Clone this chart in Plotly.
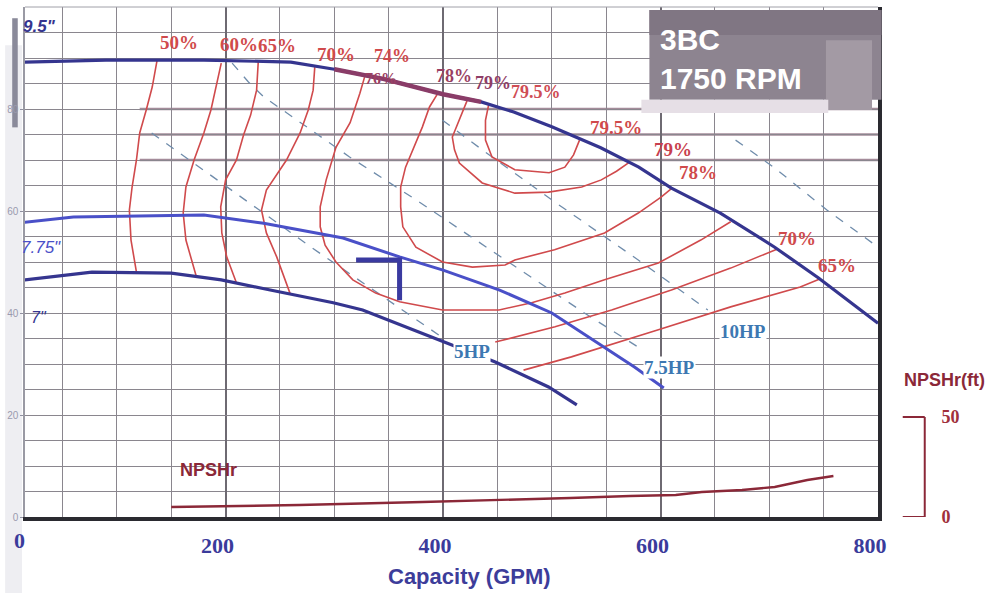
import plotly.graph_objects as go

# ---- Head-capacity curves (capacity in GPM, head in ft) ----
imp_95_gpm = [15, 90, 180, 260, 300, 345, 400, 435, 465, 500, 545, 580, 610, 655, 705, 745, 800]
imp_95_head = [89.2, 89.6, 89.6, 89.2, 87.8, 85.9, 82.9, 81.4, 79.4, 76.5, 72.4, 68.6, 64.5, 59.6, 52.9, 46.9, 38.0]

imp_775_gpm = [15, 60, 180, 195, 235, 308, 360, 400, 452, 500, 548, 576, 603]
imp_775_head = [57.8, 58.8, 59.2, 58.8, 57.6, 54.7, 51.0, 48.4, 44.5, 40.0, 33.3, 29.4, 25.3]

imp_7_gpm = [15, 77, 150, 196, 241, 299, 326, 402, 448, 497, 523]
imp_7_head = [46.5, 48.0, 47.8, 46.5, 44.5, 42.0, 40.6, 34.3, 30.4, 25.5, 22.0]

# ---- Iso-efficiency lines ----
eff50_gpm = [137, 132.5, 127, 121, 118, 114, 111.5, 113, 118]
eff50_head = [89.6, 84.3, 79.8, 75.3, 70.0, 64.7, 60.2, 54.3, 48.0]
eff60_gpm = [196, 192, 186.5, 180, 171, 163.5, 161, 163.5, 173]
eff60_head = [89.0, 85.1, 79.8, 75.3, 70.0, 64.7, 59.6, 54.3, 47.2]
eff65_gpm = [230, 228.5, 223, 216.5, 210, 200, 195.5, 196.5, 201, 210]
eff65_head = [89.2, 83.7, 78.8, 74.9, 70.0, 66.1, 60.8, 55.7, 51.0, 45.9]
eff65_right_gpm = [474, 518, 598, 664.5, 728.5, 747]
eff65_right_head = [28.8, 31.4, 36.7, 41.2, 45.1, 46.7]
eff70_gpm = [282, 280.5, 276, 268.5, 256, 237.5, 233, 237.5, 247, 259.5]
eff70_head = [88.2, 83.7, 79.8, 75.3, 70.0, 64.1, 60.2, 55.7, 51.0, 43.7]
eff70_right_gpm = [448, 503, 555, 610, 664.5, 707]
eff70_right_head = [34.3, 37.3, 40.6, 44.5, 48.8, 52.5]
eff74_gpm = [328, 323.5, 314.5, 301.5, 292.5, 287, 287, 291.5, 301.5, 317, 338, 360,
             399.5, 451.5, 481.5, 512, 548.5, 598, 637, 664.5]
eff74_head = [86.4, 83.1, 77.3, 72.5, 66.1, 60.8, 56.9, 53.3, 50.0, 46.5, 43.9, 42.2,
              40.6, 40.6, 42.0, 43.9, 46.5, 49.8, 54.3, 57.9]
eff78_gpm = [395, 387.5, 381, 372, 365.5, 361, 361, 363, 375, 399.5, 427, 457, 466,
             502.5, 548.5, 579.5, 600.5, 610]
eff78_head = [83.0, 80.4, 76.5, 71.9, 68.6, 64.7, 60.8, 56.9, 52.9, 50.0, 49.0, 49.4, 50.4,
              52.4, 55.7, 59.6, 62.7, 64.4]
eff79_gpm = [422, 417.5, 408.5, 410.5, 415, 436, 466, 497, 527.5, 545.5, 559.5, 571.5]
eff79_head = [81.6, 79.2, 74.5, 72.0, 69.4, 65.5, 63.5, 63.7, 64.7, 66.1, 67.8, 69.6]
eff795_gpm = [442, 439, 439, 445, 466, 497.5, 512, 520, 525.5]
eff795_head = [80.9, 77.8, 73.9, 70.6, 68.1, 67.5, 68.6, 71.0, 73.9]

# ---- Power (HP) lines ----
hp5_gpm = [132, 278, 400]
hp5_head = [75.3, 53.0, 35.1]
hp75_gpm = [206, 221, 235, 314, 375, 454, 530, 578]
hp75_head = [89.0, 85.3, 82.4, 70.6, 62.2, 50.8, 40.0, 33.5]
hp10_gpm = [399.5, 436, 506.5, 579.5, 643.5]
hp10_head = [77.8, 72.0, 61.2, 50.4, 40.6]
hp15_gpm = [669, 704, 753, 795]
hp15_head = [73.9, 68.6, 60.2, 53.7]

# ---- NPSHr (secondary axis, ft) ----
npshr_gpm = [150, 268, 381, 454, 517, 572, 614, 638, 675, 705, 735, 759]
npshr_ft = [5, 6, 7.5, 8.5, 9.5, 10.5, 11, 12.5, 13.5, 15, 18.5, 20.5]

# ---- Best-efficiency marker ----
bep_gpm = [320, 360, 360]
bep_head = [50.4, 50.4, 42.5]

# ---- Axis ticks ----
x_ticks = [200, 400, 600, 800]
x_minor = [50, 100, 150, 250, 300, 350, 450, 500, 550, 650, 700, 750]
y_ticks = [0, 20, 40, 60, 80]
npsh_ticks = [0, 50]

NAVY = "#35358f"
BLUE = "#4a50c8"
RED = "#d04a4c"
HPBLUE = "#3d78b2"
MAROON = "#8b2838"
GRID = "#8a868e"

fig = go.Figure()


def line(x, y, color, width, dash="solid", yaxis="y"):
    fig.add_trace(go.Scatter(x=x, y=y, mode="lines", yaxis=yaxis,
                             line=dict(color=color, width=width, dash=dash),
                             hoverinfo="skip", showlegend=False))


# power lines (thin dashed)
for gx, hy in [(hp5_gpm, hp5_head), (hp75_gpm, hp75_head),
               (hp10_gpm, hp10_head), (hp15_gpm, hp15_head)]:
    line(gx, hy, "#6f8cab", 1.3, dash="dash")

# efficiency lines
for gx, hy in [(eff50_gpm, eff50_head), (eff60_gpm, eff60_head), (eff65_gpm, eff65_head),
               (eff65_right_gpm, eff65_right_head), (eff70_gpm, eff70_head),
               (eff70_right_gpm, eff70_right_head), (eff74_gpm, eff74_head),
               (eff78_gpm, eff78_head), (eff79_gpm, eff79_head), (eff795_gpm, eff795_head)]:
    line(gx, hy, RED, 1.6)

# impeller curves
line(imp_95_gpm, imp_95_head, NAVY, 3.2)
line(imp_95_gpm[4:8], imp_95_head[4:8], "#8a3c68", 4.5)
line(imp_775_gpm, imp_775_head, BLUE, 3.0)
line(imp_7_gpm, imp_7_head, NAVY, 3.2)

# best efficiency marker
line(bep_gpm, bep_head, "#3a3aa0", 5)

# NPSHr curve
line(npshr_gpm, npshr_ft, MAROON, 2.4, yaxis="y2")

ann = []


def label(text, x, y, color, size=19, family="Liberation Serif", bold=True,
          italic=False, bg=None, xanchor="center", xref="x", yref="y"):
    t = text
    if bold:
        t = "<b>" + t + "</b>"
    if italic:
        t = "<i>" + t + "</i>"
    d = dict(text=t, x=x, y=y, xref=xref, yref=yref, showarrow=False,
             xanchor=xanchor, yanchor="middle",
             font=dict(family=family, size=size, color=color), borderpad=0)
    if bg:
        d["bgcolor"] = bg
    ann.append(d)


# efficiency labels
for txt, gx, hy, col, sz in [("50%", 157.2, 93.1, RED, 19), ("60%", 212, 92.7, RED, 19),
                             ("65%", 247, 92.4, RED, 19), ("70%", 301.6, 90.6, RED, 19),
                             ("74%", 353, 90.4, RED, 18), ("76%", 343, 86.0, "#9b4063", 16),
                             ("78%", 410, 86.5, "#9a3f62", 18), ("79%", 446, 85.1, "#8f3d66", 18),
                             ("79.5%", 485, 83.3, "#cf4d55", 18),
                             ("79.5%", 559.4, 76.3, RED, 19), ("79%", 611.5, 72.0, "#c8404e", 19),
                             ("78%", 634.4, 67.6, RED, 19), ("70%", 725.8, 54.7, RED, 19),
                             ("65%", 762.3, 49.4, RED, 19)]:
    label(txt, gx, hy, col, size=sz)

# power labels
for txt, gx, hy in [("5HP", 427, 32.4), ("7.5HP", 608, 29.4),
                    ("10HP", 675.5, 36.3), ("15HP", 829, 48.8)]:
    label(txt, gx, hy, HPBLUE, size=19, bg="white")

# impeller diameter labels
label('9.5"', 29, 96.1, NAVY, size=17, family="Liberation Sans", italic=True)
label('7.75"', 30, 52.9, BLUE, size=17, family="Liberation Sans", bold=False, italic=True)
label('7"', 28, 39.2, NAVY, size=16, family="Liberation Sans", bold=False, italic=True)

# NPSHr labels
label("NPSHr", 184.6, 9.2, MAROON, size=18, family="Liberation Sans")
label("NPSHr(ft)", 1.078, 0.2686, MAROON, size=18, family="Liberation Sans",
      xref="paper", yref="paper")

# x axis zero label and title
label("0", -0.006, -0.047, "#3b3b9b", size=22, xref="paper", yref="paper")
label("Capacity (GPM)", 0.521, -0.1176, "#3d3d9a", size=22, family="Liberation Sans",
      xref="paper", yref="paper")

# model / speed box text
label("3BC", 0.7436, 0.937, "white", size=30, family="Liberation Sans",
      xanchor="left", xref="paper", yref="paper")
label("1750 RPM", 0.7436, 0.859, "white", size=30, family="Liberation Sans",
      xanchor="left", xref="paper", yref="paper")

shapes = []
# emphasised head grid lines
for hy in [80, 75, 70]:
    shapes.append(dict(type="line", xref="x", yref="y", x0=121, x1=800, y0=hy, y1=hy,
                       line=dict(color="#a48c9a", width=2.6), layer="below"))
# top border
shapes.append(dict(type="line", xref="paper", yref="paper", x0=0, x1=1, y0=1, y1=1,
                   line=dict(color="#a0a0a8", width=1)))
# model box
shapes += [
    dict(type="rect", xref="paper", yref="paper", x0=0.732, x1=1.004, y0=0.818, y1=0.994,
         fillcolor="#8d8490", line=dict(width=0), layer="above"),
    dict(type="rect", xref="paper", yref="paper", x0=0.732, x1=1.004, y0=0.945, y1=0.994,
         fillcolor="#807683", line=dict(width=0), layer="above"),
    dict(type="rect", xref="paper", yref="paper", x0=0.939, x1=0.993, y0=0.798, y1=0.935,
         fillcolor="#a39aa4", line=dict(width=0), layer="above"),
    dict(type="rect", xref="paper", yref="paper", x0=0.7226, x1=0.9417, y0=0.792, y1=0.818,
         fillcolor="#e6dfe6", line=dict(width=0), layer="above"),
]
# scanned left margin band
shapes += [
    dict(type="rect", xref="paper", yref="paper", x0=-0.0233, x1=-0.0035, y0=-0.149, y1=0.925,
         fillcolor="#eeeef2", line=dict(width=0), layer="below"),
    dict(type="rect", xref="paper", yref="paper", x0=-0.0150, x1=-0.0085, y0=0.764, y1=0.978,
         fillcolor="#8a8a9a", line=dict(width=0), layer="below"),
]
# NPSHr scale bracket
for y0, y1 in [(0, 0), (50, 50)]:
    shapes.append(dict(type="line", xref="paper", yref="y2", x0=1.029, x1=1.0548, y0=y0, y1=y1,
                       line=dict(color=MAROON, width=2)))
shapes.append(dict(type="line", xref="paper", yref="y2", x0=1.0548, x1=1.0548, y0=0, y1=50,
                   line=dict(color=MAROON, width=2)))

fig.update_layout(
    width=1000, height=593,
    margin=dict(l=20, r=122, t=7, b=76),
    paper_bgcolor="white", plot_bgcolor="white",
    showlegend=False,
    annotations=ann, shapes=shapes,
    xaxis=dict(range=[15.5, 800], tickvals=x_ticks, ticks="",
               tickfont=dict(family="Liberation Serif", size=22, color="#3b3b9b",
                             weight="bold"),
               ticklabelstandoff=6, ticklabelshift=-8,
               showgrid=True, gridcolor="#6e6a72", gridwidth=1.6,
               minor=dict(tickvals=x_minor, showgrid=True, gridcolor=GRID, gridwidth=1.2),
               showline=True, linecolor="#2a2a30", linewidth=4, zeroline=False,
               fixedrange=True),
    yaxis=dict(range=[0, 100], tickvals=y_ticks, ticks="outside", ticklen=3,
               tickcolor="#9090a0",
               tickfont=dict(family="Liberation Sans", size=10, color="#9a9aae"),
               showgrid=True, gridcolor=GRID, gridwidth=1.3,
               minor=dict(dtick=5, tick0=0, showgrid=True, gridcolor=GRID, gridwidth=1.2),
               showline=True, linecolor="#9a9aa4", linewidth=1.5, zeroline=False,
               fixedrange=True),
    yaxis2=dict(range=[0, 255], overlaying="y", side="right", tickvals=npsh_ticks,
                ticks="", ticklabelstandoff=56,
                tickfont=dict(family="Liberation Serif", size=18, color="#a0303c",
                              weight="bold"),
                showgrid=False, zeroline=False,
                showline=True, linecolor="#2a2a30", linewidth=4, fixedrange=True),
)

fig.write_html("out.html")
